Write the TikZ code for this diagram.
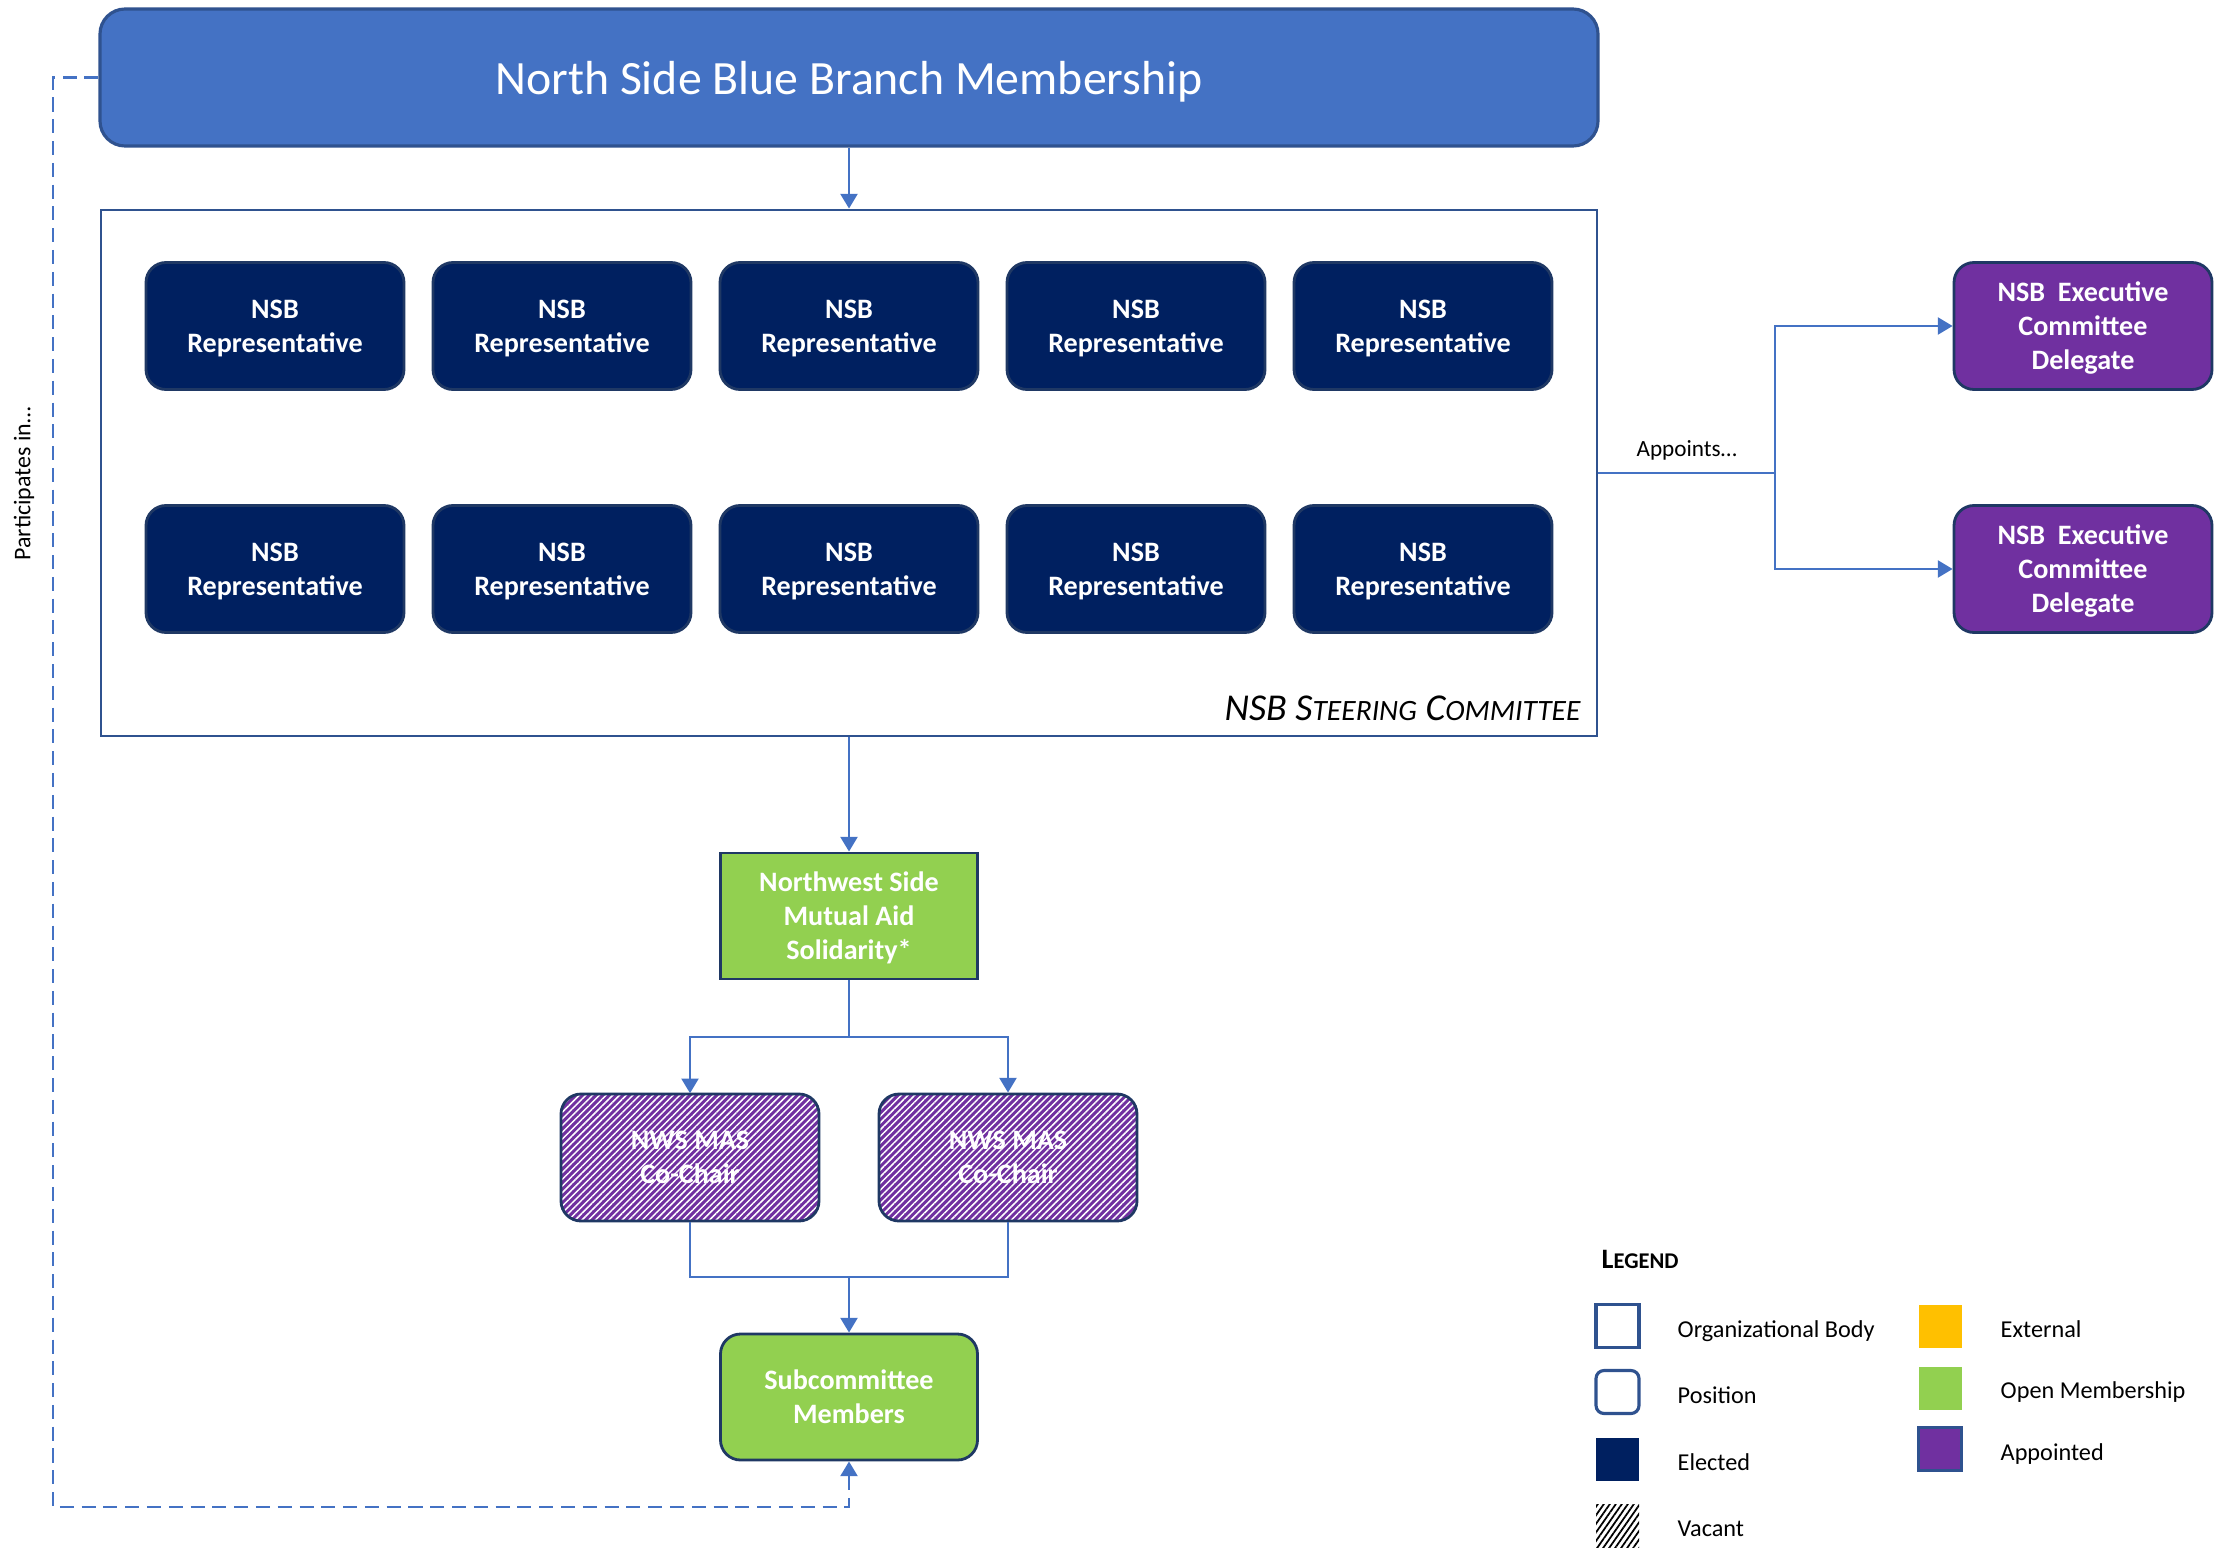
\documentclass[tikz,border=0pt]{standalone}
\usepackage{fontspec}
\setmainfont{Carlito}
\usepackage{tikz}
\usetikzlibrary{arrows.meta,patterns.meta}
\definecolor{barblue}{HTML}{4472C4}
\definecolor{barline}{HTML}{2F528F}
\definecolor{boxline}{HTML}{1F3864}
\definecolor{elected}{HTML}{002060}
\definecolor{appointed}{HTML}{7030A0}
\definecolor{openmem}{HTML}{92D050}
\definecolor{external}{HTML}{FFC000}

\begin{document}
\begin{tikzpicture}[
  >={Triangle[length=4.2pt,width=4.8pt]},
  link/.style={draw=barblue,line width=0.8pt},
  boxtext/.style={text=white,align=center,text depth=0pt,font=\fontsize{8}{9.7}\selectfont\bfseries},
  rep/.style={boxtext,draw=boxline,line width=0.8pt,fill=elected,rounded corners=0.2cm,
    minimum width=2.58cm,minimum height=1.27cm},
  appt/.style={rep,fill=appointed},
  openbox/.style={boxtext,draw=boxline,line width=0.8pt,fill=openmem,
    minimum width=2.57cm,minimum height=1.26cm},
  vacant/.style={rep,fill=none,preaction={fill=appointed},
    pattern={Lines[angle=45,distance=1.35pt,line width=0.42pt]},pattern color=white},
  keybox/.style={minimum width=0.43cm,minimum height=0.43cm,inner sep=0pt},
  keytext/.style={anchor=base west,inner sep=0pt,font=\fontsize{6.9}{8}\selectfont}
]
\useasboundingbox (0,0) rectangle (22.34,-15.47);
\node[draw=barline,line width=0.9pt,fill=barblue,rounded corners=0.25cm,
  minimum width=14.98cm,minimum height=1.37cm,text=white,text depth=0pt,
  font=\fontsize{13.6}{16}\selectfont] (nsb) at (8.49,-0.775) {North Side Blue Branch Membership};
\node[draw=barline,line width=0.8pt,minimum width=14.96cm,minimum height=5.26cm] (sc) at (8.49,-4.73) {};
\node[anchor=base east,font=\fontsize{10.8}{12}\selectfont\itshape] (sclabel) at (15.93,-7.20)
  {NSB S{\fontsize{8.4}{10}\selectfont TEERING} C{\fontsize{8.4}{10}\selectfont OMMITTEE}};
\node[rep] (r1) at (2.75,-3.26) {NSB\\Representative};
\node[rep] (r2) at (5.62,-3.26) {NSB\\Representative};
\node[rep] (r3) at (8.49,-3.26) {NSB\\Representative};
\node[rep] (r4) at (11.36,-3.26) {NSB\\Representative};
\node[rep] (r5) at (14.23,-3.26) {NSB\\Representative};
\node[rep] (r6) at (2.75,-5.69) {NSB\\Representative};
\node[rep] (r7) at (5.62,-5.69) {NSB\\Representative};
\node[rep] (r8) at (8.49,-5.69) {NSB\\Representative};
\node[rep] (r9) at (11.36,-5.69) {NSB\\Representative};
\node[rep] (r10) at (14.23,-5.69) {NSB\\Representative};
\node[appt] (d1) at (20.83,-3.26) {NSB\ \ Executive\\Committee\\Delegate};
\node[appt] (d2) at (20.83,-5.69) {NSB\ \ Executive\\Committee\\Delegate};
\node[openbox] (nw) at (8.49,-9.16) {Northwest Side\\Mutual Aid\\Solidarity*};
\node[vacant] (c1) at (6.90,-11.575) {NWS MAS\\Co-Chair};
\node[vacant] (c2) at (10.08,-11.575) {NWS MAS\\Co-Chair};
\node[openbox,rounded corners=0.2cm] (sub) at (8.49,-13.97) {Subcommittee\\Members};
\coordinate (ap) at (17.75,-4.73);
\coordinate (split) at (8.49,-10.37);
\coordinate (join) at (8.49,-12.77);
\coordinate (pt) at (0.53,-0.775);
\coordinate (pb) at (0.53,-15.07);
\draw[link,->] (nsb) -- (sc);
\draw[link,->] (sc) -- (nw);
\draw[link] (nw) -- (split);
\draw[link,->] (split) -| (c1.north);
\draw[link,->] (split) -| (c2.north);
\draw[link] (c1.south) |- (join) -| (c2.south);
\draw[link,->] (join) -- (sub);
\draw[link] (sc.east) -- node[above=0pt,font=\fontsize{6.6}{8}\selectfont,text=black] {Appoints\ldots} (ap);
\draw[link,->] (ap) |- (d1.west);
\draw[link,->] (ap) |- (d2.west);
\draw[link,dash pattern=on 4pt off 2.2pt,->] (nsb.west) -- (pt) -- (pb) -| (sub.south);
\node[rotate=90,font=\fontsize{6.8}{8}\selectfont] (part) at (0.24,-4.84) {Participates in\ldots};
\node[anchor=base west,inner sep=0pt,font=\fontsize{8}{10}\selectfont\bfseries] (legend) at (16.01,-12.68)
  {L{\fontsize{6.4}{8}\selectfont EGEND}};
\node[keybox,draw=barline,line width=0.9pt] (k1) at (16.175,-13.26) {};
\node[keybox,draw=barline,line width=0.9pt,rounded corners=0.08cm] (k2) at (16.175,-13.92) {};
\node[keybox,fill=elected] (k3) at (16.175,-14.59) {};
\node[keybox,pattern={Lines[angle=55,distance=1.4pt,line width=0.5pt]},pattern color=black] (k4) at (16.175,-15.26) {};
\node[keybox,fill=external] (k5) at (19.40,-13.26) {};
\node[keybox,fill=openmem] (k6) at (19.40,-13.88) {};
\node[keybox,fill=appointed,draw=barline,line width=0.9pt] (k7) at (19.40,-14.49) {};
\node[keytext] (t1) at (16.77,-13.37) {Organizational Body};
\node[keytext] (t2) at (16.77,-14.03) {Position};
\node[keytext] (t3) at (16.77,-14.70) {Elected};
\node[keytext] (t4) at (16.77,-15.36) {Vacant};
\node[keytext] (t5) at (20.00,-13.37) {External};
\node[keytext] (t6) at (20.00,-13.985) {Open Membership};
\node[keytext] (t7) at (20.00,-14.60) {Appointed};
\end{tikzpicture}
\end{document}
